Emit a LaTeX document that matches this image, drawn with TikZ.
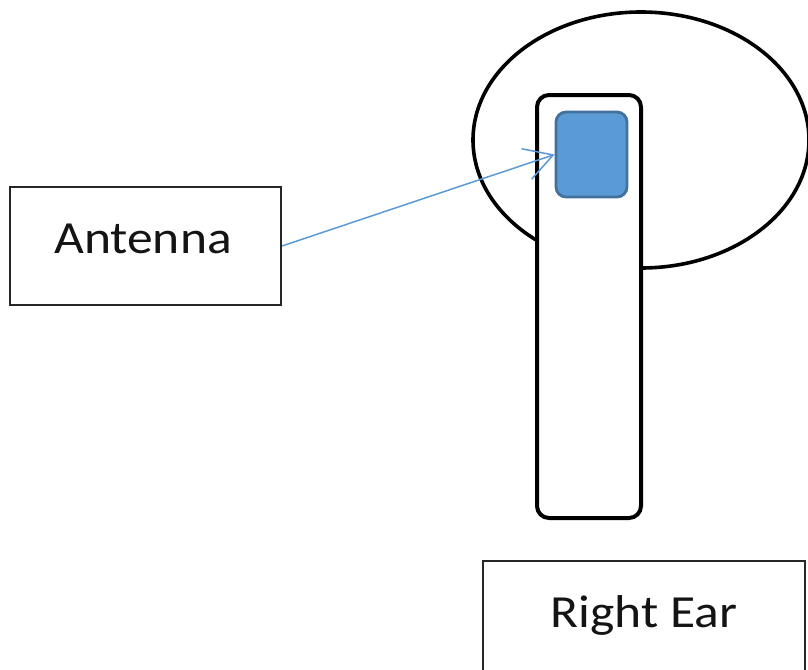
\documentclass[tikz,border=0pt]{standalone}
\usepackage{fontspec}
\setmainfont{Carlito}[FakeStretch=1.12]
\usetikzlibrary{arrows.meta,shapes.geometric}
\definecolor{chipfill}{HTML}{5B9BD5}
\definecolor{chipline}{HTML}{41719C}
\definecolor{arrowcol}{HTML}{5B9BD5}
\begin{document}
\begin{tikzpicture}[x=1pt,y=-1pt,
  box/.style={draw=black!85, line width=2.2pt, fill=white, inner sep=0pt},
  lbl/.style={font=\fontsize{46}{50}\selectfont, text=black!92, inner sep=0pt, anchor=base}]
\clip (0,0) rectangle (808,669);
\fill[white] (0,0) rectangle (808,669);
% ear outline
\node (ear) [draw, line width=3.6pt, ellipse, minimum width=336pt, minimum height=256pt, inner sep=0pt] at (641,140) {};
% stick
\node (stick) [draw, line width=4pt, fill=white, rounded corners=12pt, minimum width=104pt, minimum height=423pt, inner sep=0pt] at (589,306.5) {};
% chip
\node (chip) [draw=chipline, fill=chipfill, line width=2.8pt, rounded corners=10pt, minimum width=71pt, minimum height=85pt, inner sep=0pt] at (591.5,154.5) {};
% Antenna box
\node (antbox) [box, minimum width=271pt, minimum height=118pt] at (145.5,246) {};
\node (anttext) [lbl] at (143,253) {Antenna};
% Right Ear box
\node (earbox) [box, minimum width=322pt, minimum height=150pt, anchor=north] at (644,560) {};
\node (eartext) [lbl] at (644,627) {Right Ear};
% arrow
\draw[arrowcol, line width=1.5pt, -{Straight Barb[length=28pt, width=32pt]}] (antbox.east) -- (chip.west);
\end{tikzpicture}
\end{document}
